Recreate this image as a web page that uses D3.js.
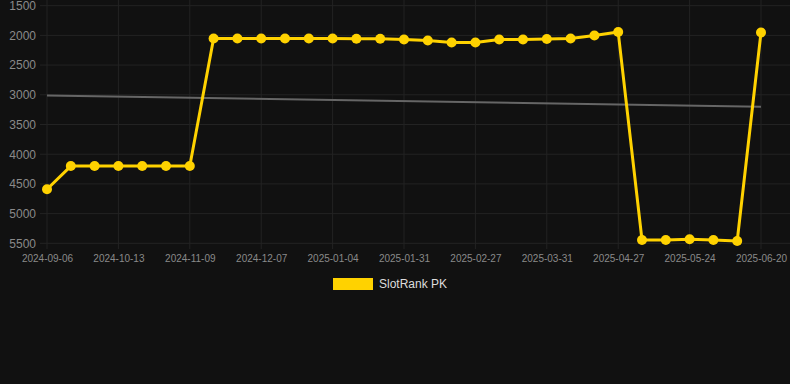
<!DOCTYPE html>
<html>
<head>
<meta charset="utf-8">
<script src="https://cdn.jsdelivr.net/npm/d3@7"></script>
<style>
  html, body { margin: 0; padding: 0; background: #111111; }
  svg { display: block; }
</style>
</head>
<body>
<svg id="chart" width="790" height="384"></svg>
<script>
const dates = [
  "2024-09-06","2024-09-18","2024-10-01","2024-10-13","2024-10-22","2024-10-31",
  "2024-11-09","2024-11-18","2024-11-28","2024-12-07","2024-12-16","2024-12-26",
  "2025-01-04","2025-01-13","2025-01-22","2025-01-31","2025-02-09","2025-02-18",
  "2025-02-27","2025-03-10","2025-03-21","2025-03-31","2025-04-09","2025-04-18",
  "2025-04-27","2025-05-06","2025-05-15","2025-05-24","2025-06-02","2025-06-11",
  "2025-06-20"
];
const rankValues = [
  4590, 4200, 4200, 4200, 4200, 4200,
  4200, 2052, 2052, 2052, 2052, 2052,
  2052, 2055, 2057, 2069, 2086, 2119,
  2119, 2069, 2069, 2062, 2052, 2001,
  1944, 5444, 5444, 5432, 5444, 5461,
  1951
];
const trendValues = [3012, 3200];
const yTicks = [1500, 2000, 2500, 3000, 3500, 4000, 4500, 5000, 5500];
const xTickLabels = ["2024-09-06","2024-10-13","2024-11-09","2024-12-07","2025-01-04",
  "2025-01-31","2025-02-27","2025-03-31","2025-04-27","2025-05-24","2025-06-20"];
const seriesName = "SlotRank PK";

const svg = d3.select("#chart");
const W = 790;
svg.append("rect").attr("width", W).attr("height", 384).attr("fill", "#111111");

const x = d3.scalePoint().domain(dates).range([47, 761]);
const y = d3.scaleLinear().domain([1500, 5500]).range([5.7, 243.3]);

// horizontal grid
const gy = svg.append("g");
gy.selectAll("line").data(yTicks).join("line")
  .attr("x1", 40).attr("x2", W)
  .attr("y1", d => y(d)).attr("y2", d => y(d))
  .attr("stroke", "#232323").attr("stroke-width", 1);

// vertical grid
const gx = svg.append("g");
gx.selectAll("line").data(xTickLabels).join("line")
  .attr("x1", d => x(d)).attr("x2", d => x(d))
  .attr("y1", 0).attr("y2", 249)
  .attr("stroke", "#232323").attr("stroke-width", 1);

// y axis labels
const yAxis = d3.axisLeft(y).tickValues(yTicks).tickSize(0).tickPadding(0).tickFormat(d => d);
const yg = svg.append("g").attr("transform", "translate(36,0)").call(yAxis);
yg.select(".domain").remove();
yg.selectAll("text").attr("fill", "#8a8a8a").attr("font-size", 12)
  .attr("font-family", "Helvetica, Arial, 'Liberation Sans', sans-serif");

// x axis labels
const xAxis = d3.axisBottom(x).tickValues(xTickLabels).tickSize(0).tickPadding(0);
const xg = svg.append("g").attr("transform", "translate(0,255)").call(xAxis);
xg.select(".domain").remove();
xg.selectAll("text").attr("fill", "#8a8a8a").attr("font-size", 10)
  .attr("dy", "0.71em")
  .attr("font-family", "Helvetica, Arial, 'Liberation Sans', sans-serif");

// trend line
svg.append("line")
  .attr("x1", x(dates[0])).attr("x2", x(dates[dates.length - 1]))
  .attr("y1", y(trendValues[0])).attr("y2", y(trendValues[1]))
  .attr("stroke", "#666666").attr("stroke-width", 2);

// series line
const data = dates.map((d, i) => ({ d, v: rankValues[i] }));
svg.append("path").datum(data)
  .attr("fill", "none").attr("stroke", "#FFD200").attr("stroke-width", 3)
  .attr("stroke-linejoin", "round")
  .attr("d", d3.line().x(p => x(p.d)).y(p => y(p.v)));

svg.append("g").selectAll("circle").data(data).join("circle")
  .attr("cx", p => x(p.d)).attr("cy", p => y(p.v)).attr("r", 5)
  .attr("fill", "#FFD200");

// legend
const lg = svg.append("g");
lg.append("rect").attr("x", 333).attr("y", 278).attr("width", 40).attr("height", 12)
  .attr("fill", "#FFD200");
lg.append("text").attr("x", 379).attr("y", 284).attr("dy", "0.35em")
  .attr("fill", "#dddddd").attr("font-size", 12)
  .attr("font-family", "Helvetica, Arial, 'Liberation Sans', sans-serif")
  .text(seriesName);
</script>
</body>
</html>
